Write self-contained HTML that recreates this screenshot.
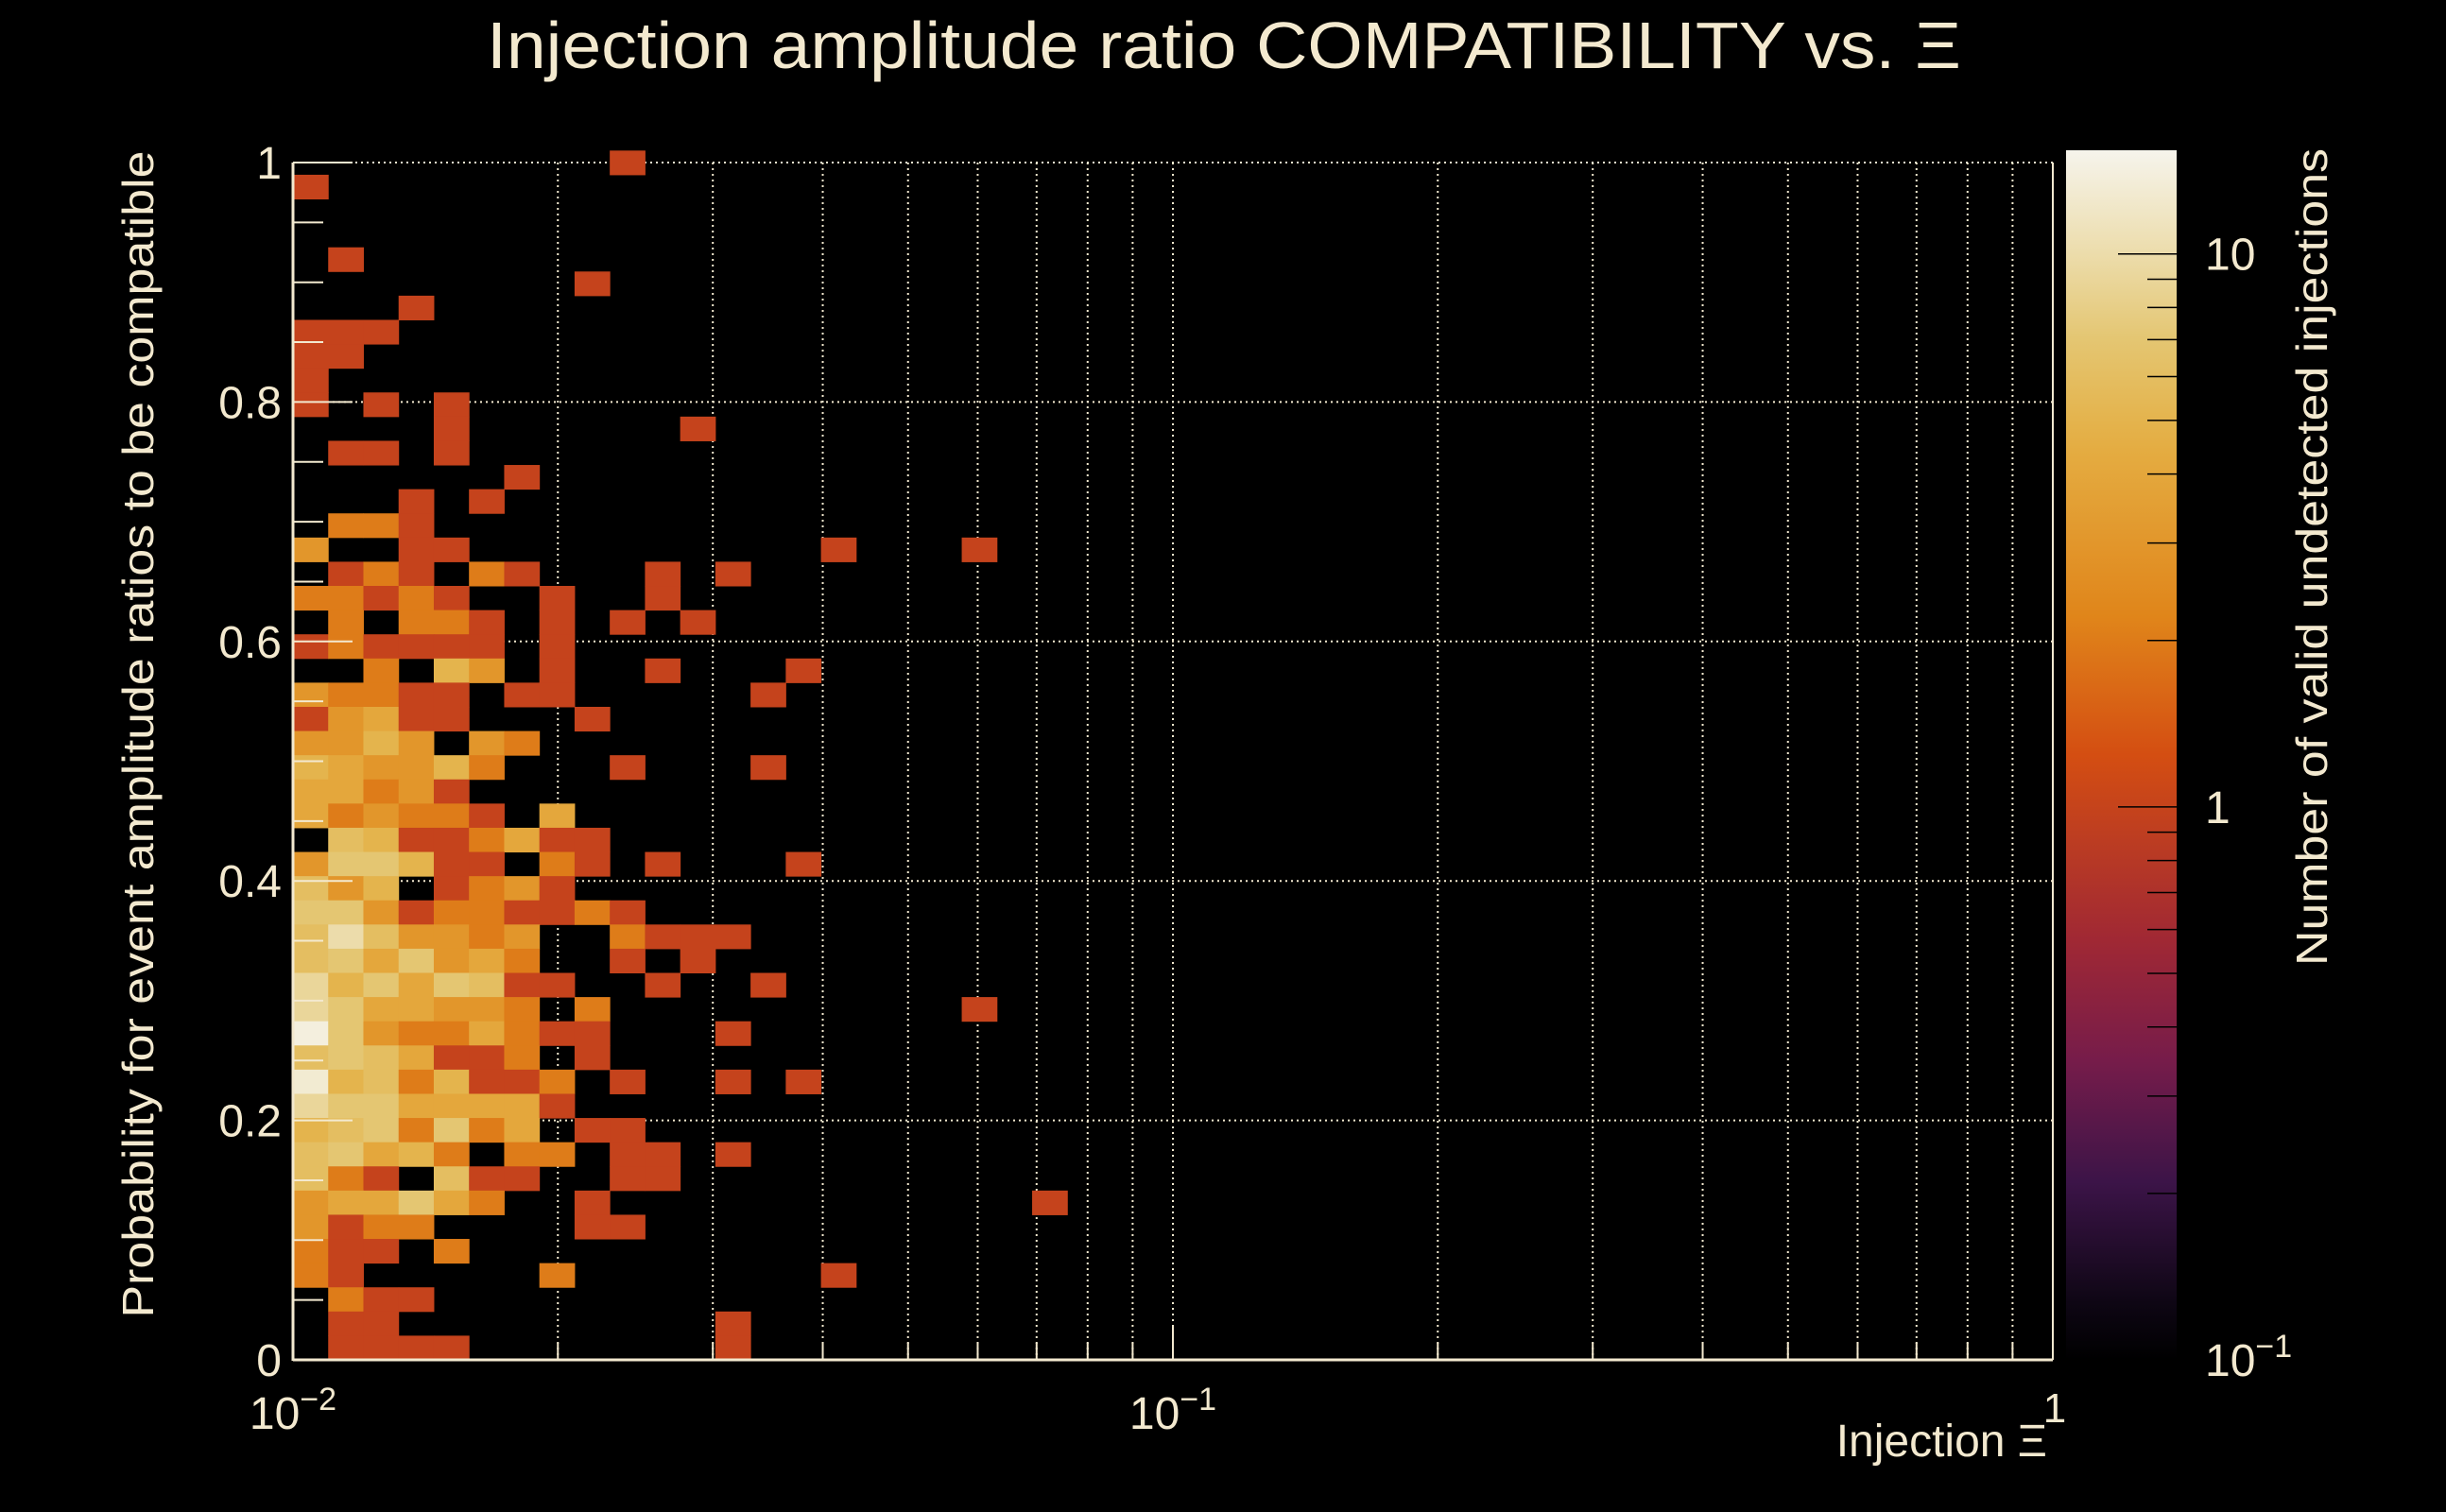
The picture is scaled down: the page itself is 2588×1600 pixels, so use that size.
<!DOCTYPE html>
<html><head><meta charset="utf-8">
<style>
html,body{margin:0;padding:0;background:#000;}
svg{display:block;}
text{font-family:"Liberation Sans",sans-serif;fill:#f3e9cf;}
</style></head>
<body>
<svg id="chart" width="2588" height="1600" viewBox="0 0 2588 1600" xmlns="http://www.w3.org/2000/svg">
<rect x="0" y="0" width="2588" height="1600" fill="#000"/>
<defs>
<linearGradient id="pal" x1="0" y1="1" x2="0" y2="0"></linearGradient>
</defs>
<text x="1295" y="72" font-size="70" text-anchor="middle" textLength="1560" lengthAdjust="spacingAndGlyphs">Injection amplitude ratio COMPATIBILITY vs.  Ξ</text>
<g id="grid"></g>
<g id="cells"></g>
<g id="axes"></g>
<text transform="translate(162,777) rotate(-90)" font-size="46" text-anchor="middle" textLength="1235" lengthAdjust="spacingAndGlyphs">Probability for event amplitude ratios to be compatible</text>
<text x="2166" y="1541" font-size="48" text-anchor="end">Injection Ξ</text>
<g id="cbar"></g>
<text transform="translate(2462,1022) rotate(-90)" font-size="46" text-anchor="start" textLength="865" lengthAdjust="spacingAndGlyphs">Number of valid undetected injections</text>
</svg>
<script>
// ---- data ----
const binRow = [
49,48,45,44,43,42,42,42,41,41,40,39,39,39,38,38,37,37,37,36,35,35,34,34,34,
33,33,33,33,33,
32,32,32,32,32,32,32,
31,31,31,31,31,31,31,
30,30,30,30,30,30,30,
29,29,29,29,29,29,29,
28,28,28,28,28,28,
27,27,27,27,27,27,27,27,
26,26,26,26,26,26,
25,25,25,25,25,25,
24,24,24,24,24,24,24,24,
23,23,23,23,23,
22,22,22,22,22,22,22,
21,21,21,21,21,21,21,21,
20,20,20,20,20,20,20,20,20,20,
19,19,19,19,19,19,19,
18,18,18,18,18,18,18,18,18,18,
17,17,17,17,17,17,17,17,17,17,17,
16,16,16,16,16,16,16,16,16,
15,15,15,15,15,15,15,15,15,15,
14,14,14,14,14,14,14,14,14,
13,13,13,13,13,13,13,13,13,13,
12,12,12,12,12,12,12,12,
11,11,11,11,11,11,11,11,11,11,11,
10,10,10,10,10,10,10,10,
9,9,9,9,9,9,9,9,9,
8,8,8,8,8,8,8,8,8,8,
7,7,7,7,7,7,7,7,
6,6,6,6,6,6,6,6,
5,5,5,5,5,5,
4,4,4,4,
3,3,3,3,
2,2,2,
1,1,1,
0,0,0,0,0];
const binCol = [
9,0,1,8,3,0,1,2,0,1,0,0,2,4,4,11,1,2,4,6,3,5,1,2,3,
0,3,4,15,19,
1,2,3,5,6,10,12,
0,1,2,3,4,7,10,
1,3,4,5,7,9,11,
0,1,2,3,4,5,7,
2,4,5,7,10,14,
0,1,2,3,4,6,7,13,
0,1,2,3,4,8,
0,1,2,3,5,6,
0,1,2,3,4,5,9,13,
0,1,2,3,4,
0,1,2,3,4,5,7,
1,2,3,4,5,6,7,8,
0,1,2,3,4,5,7,8,10,14,
0,1,2,4,5,6,7,
0,1,2,3,4,5,6,7,8,9,
0,1,2,3,4,5,6,9,10,11,12,
0,1,2,3,4,5,6,9,11,
0,1,2,3,4,5,6,7,10,13,
0,1,2,3,4,5,6,8,19,
0,1,2,3,4,5,6,7,8,12,
0,1,2,3,4,5,6,8,
0,1,2,3,4,5,6,7,9,12,14,
0,1,2,3,4,5,6,7,
0,1,2,3,4,5,6,8,9,
0,1,2,3,4,6,7,9,10,12,
0,1,2,4,5,6,9,10,
0,1,2,3,4,5,8,21,
0,1,2,3,8,9,
0,1,2,4,
0,1,7,15,
1,2,3,
1,2,12,
1,2,3,4,12];
const binCount = [
1,1,1,1,1,1,1,1,1,1,1,1,1,1,1,1,1,1,1,1,1,1,2,2,1,
3,1,1,1,1,
1,2,1,2,1,1,1,
2,2,1,2,1,1,1,
2,2,2,1,1,1,1,
1,2,1,1,1,1,1,
2,5,3,1,1,1,
3,2,2,1,1,1,1,1,
1,3,4,1,1,1,
3,3,5,3,3,2,
5,4,3,3,5,2,1,1,
4,4,2,3,1,
4,2,3,2,2,1,4,
6,5,1,1,2,4,1,1,
3,7,7,5,1,1,2,1,1,1,
6,3,5,1,2,3,1,
7,7,3,1,2,2,1,1,2,1,
6,10,6,3,3,2,3,2,1,1,1,
6,7,4,7,3,4,2,1,1,
9,5,7,4,7,6,1,1,1,1,
9,7,4,4,3,3,2,2,1,
14,7,3,2,2,4,2,1,1,1,
6,7,6,4,1,1,2,1,
13,5,6,2,5,1,1,2,1,1,1,
9,7,7,4,4,4,4,1,
5,6,7,2,7,2,4,1,1,
6,7,4,5,2,2,2,1,1,1,
6,2,1,6,1,1,1,1,
3,4,4,7,4,2,1,1,
3,1,2,2,1,1,
2,1,1,2,
2,1,2,1,
2,1,1,
1,1,1,
1,1,1,1,1];
const yTickLabels = ["0","0.2","0.4","0.6","0.8","1"];
const yTickValues = [0,0.2,0.4,0.6,0.8,1];
const zTickValues = [0.1,1,10];
const nXBins = 50, xMinVal = 0.01, xMaxVal = 1;
const nYBins = 50, yMinVal = 0, yMaxVal = 1.01;
const zMinVal = 0.1, zMaxVal = 15.4;

// ---- geometry ----
const PL = 310, PR = 2172, PT = 172, PB = 1439;
const NS = "http://www.w3.org/2000/svg";
function xS(v){ return PL + (Math.log10(v) - Math.log10(xMinVal)) / (Math.log10(xMaxVal) - Math.log10(xMinVal)) * (PR - PL); }
function yS(v){ return PB - (v - 0) / 1 * (PB - PT); }
const CBT = 159, CBB = 1439, CBL = 2186, CBR = 2303;
function zS(z){ return CBB - (Math.log10(z) - Math.log10(zMinVal)) / (Math.log10(zMaxVal) - Math.log10(zMinVal)) * (CBB - CBT); }

const palStops = [[0,"#000000"],[0.047,"#0e0614"],[0.147,"#3c1448"],[0.247,"#761c4a"],[0.347,"#a02834"],[0.5,"#d44e12"],[0.614,"#e0851a"],[0.748,"#e4ab40"],[0.778,"#e4b44e"],[0.844,"#e4c672"],[0.913,"#ecdcaa"],[1,"#f6f4ec"]];
function hex2(c){ return [parseInt(c.substr(1,2),16),parseInt(c.substr(3,2),16),parseInt(c.substr(5,2),16)]; }
function palette(t){
  t = Math.max(0, Math.min(1, t));
  for (let i = 1; i < palStops.length; i++) {
    if (t <= palStops[i][0]) {
      const a = palStops[i-1], b = palStops[i];
      const f = (t - a[0]) / (b[0] - a[0]);
      const ca = hex2(a[1]), cb = hex2(b[1]);
      return "rgb(" + ca.map((v,k)=>Math.round(v + (cb[k]-v)*f)).join(",") + ")";
    }
  }
  return palStops[palStops.length-1][1];
}
function zColor(z){ return palette((Math.log10(z) - Math.log10(zMinVal)) / (Math.log10(zMaxVal) - Math.log10(zMinVal))); }

function mk(tag, attrs, parent){
  const e = document.createElementNS(NS, tag);
  for (const k in attrs) e.setAttribute(k, attrs[k]);
  parent.appendChild(e);
  return e;
}
const grid = document.getElementById("grid");
const cells = document.getElementById("cells");
const axes = document.getElementById("axes");
const cbar = document.getElementById("cbar");
const cream = "#f3e9cf";

// grid
for (let d = -2; d < 0; d++) {
  for (let m = 1; m <= 9; m++) {
    const v = m * Math.pow(10, d);
    if (v <= xMinVal) continue;
    const gx = xS(v);
    const l = mk("line", {x1:gx, x2:gx, y1:PT, y2:PB, stroke:cream, "stroke-width":2, "stroke-dasharray":"2 4"}, grid);
    
    
  }
}
yTickValues.forEach(v => {
  if (v === 0) return;
  const gy = yS(v);
  const l = mk("line", {x1:PL, x2:PR, y1:gy, y2:gy, stroke:cream, "stroke-width":2, "stroke-dasharray":"2 4"}, grid);
  
  
});

// cells
const dLogX = (Math.log10(xMaxVal) - Math.log10(xMinVal)) / nXBins;
const dY = (yMaxVal - yMinVal) / nYBins;
for (let i = 0; i < binCount.length; i++) {
  const x0 = xS(Math.pow(10, Math.log10(xMinVal) + binCol[i] * dLogX));
  const x1 = xS(Math.pow(10, Math.log10(xMinVal) + (binCol[i] + 1) * dLogX));
  const y0 = yS(yMinVal + binRow[i] * dY);
  const y1 = yS(yMinVal + (binRow[i] + 1) * dY);
  const r = mk("rect", {x:x0, y:y1, width:x1 - x0 + 0.5, height:y0 - y1 + 0.5, fill:zColor(binCount[i])}, cells);
  
  
}

// axes
const ax1 = mk("line", {x1:PL, x2:PL, y1:PT, y2:PB + 1, stroke:cream, "stroke-width":3}, axes);


const ax2 = mk("line", {x1:PL, x2:PR, y1:PB, y2:PB, stroke:cream, "stroke-width":3}, axes);


const ax3 = mk("line", {x1:PR, x2:PR, y1:PT, y2:PB, stroke:cream, "stroke-width":2}, axes);


for (let v = 0; v <= 1.0001; v += 0.05) {
  const major = Math.abs(v / 0.2 - Math.round(v / 0.2)) < 1e-6;
  const ty = yS(v);
  const t = mk("line", {x1:PL, x2:PL + (major ? 63 : 32), y1:ty, y2:ty, stroke:cream, "stroke-width":2}, axes);
  
  
}
yTickValues.forEach((v, i) => {
  const t = mk("text", {x:298, y:yS(v) + 17, "font-size":48, "text-anchor":"end"}, axes);
  t.textContent = yTickLabels[i];
  
  
});
for (let d = -2; d <= 0; d++) {
  for (let m = 1; m <= 9; m++) {
    const v = m * Math.pow(10, d);
    if (v > xMaxVal + 1e-9) break;
    const tx = xS(v);
    const t = mk("line", {x1:tx, x2:tx, y1:PB, y2:PB - (m === 1 ? 35 : 18), stroke:cream, "stroke-width":2}, axes);
    
    
  }
}
const xLab = [[0.01,"10","−2"],[0.1,"10","−1"]];
xLab.forEach(l => {
  const t = mk("text", {x:xS(l[0]), y:1512, "font-size":48, "text-anchor":"middle"}, axes);
  
  
  const s1 = mk("tspan", {}, t); s1.textContent = l[1];
  const s2 = mk("tspan", {dy:-20, "font-size":34}, t); s2.textContent = l[2];
});
const x1l = mk("text", {x:PR + 2, y:1505, "font-size":44, "text-anchor":"middle"}, axes);
x1l.textContent = "1";



// color bar
const grad = document.getElementById("pal");
palStops.forEach(s => { mk("stop", {offset:s[0], "stop-color":s[1]}, grad); });
const cbRect = mk("rect", {x:CBL, y:CBT, width:CBR - CBL, height:CBB - CBT, fill:"url(#pal)"}, cbar);


for (let d = -1; d <= 1; d++) {
  for (let m = 1; m <= 9; m++) {
    const z = m * Math.pow(10, d);
    if (z > zMaxVal || z <= zMinVal) continue;
    const ty = zS(z);
    const t = mk("line", {x1:CBR - (m === 1 ? 62 : 31), x2:CBR, y1:ty, y2:ty, stroke:"#000", "stroke-width":1.5}, cbar);
    
    
  }
}
const zLab = [["10",""],["1",""],["10","−1"]];
zTickValues.slice().reverse().forEach((z, i) => {
  const t = mk("text", {x:2333, y:zS(z) + 17, "font-size":48}, cbar);
  
  
  const s1 = mk("tspan", {}, t); s1.textContent = zLab[i][0];
  if (zLab[i][1]) { const s2 = mk("tspan", {dy:-20, "font-size":34}, t); s2.textContent = zLab[i][1]; }
});
</script>
</body></html>
